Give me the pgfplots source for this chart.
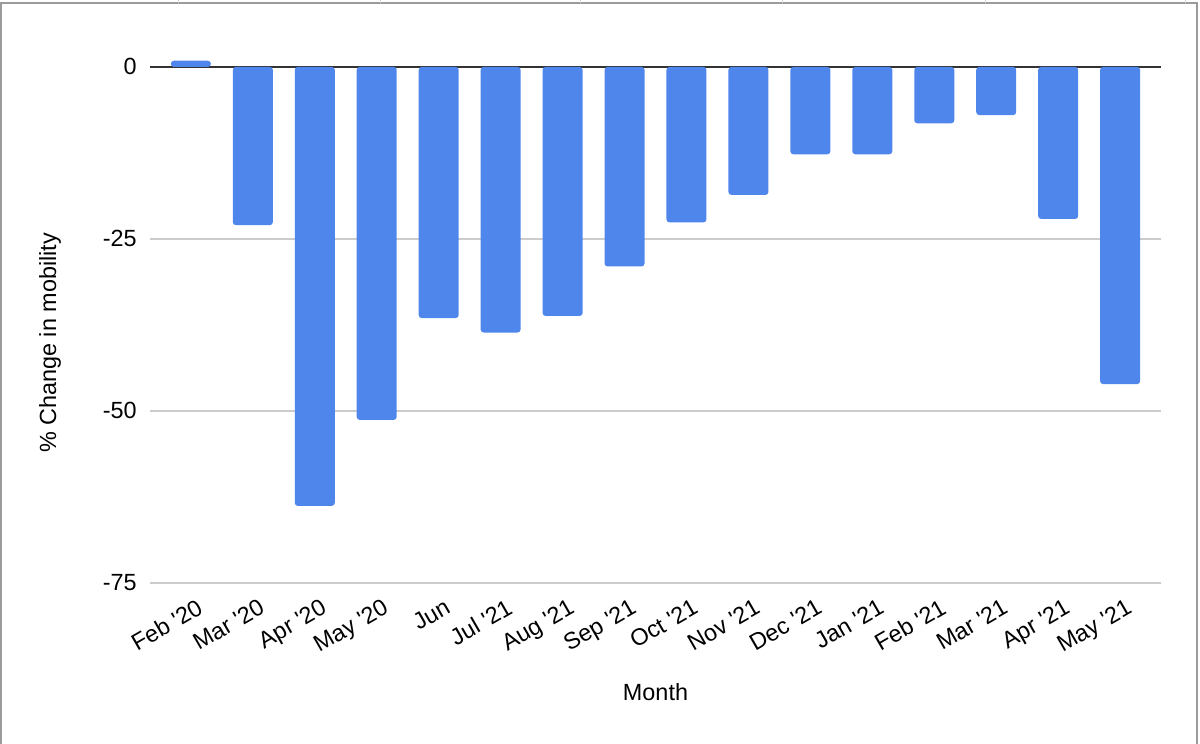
\documentclass[border=0pt]{standalone}
\usepackage{pgfplots}
\pgfplotsset{compat=1.18}
\usepackage{fontspec}
\setmainfont{Liberation Sans}
\definecolor{barblue}{HTML}{4F86EC}
\definecolor{gridgray}{HTML}{CCCCCC}
\definecolor{framegray}{HTML}{9B9B9B}
\newcommand{\q}{\textquotesingle}
\begin{document}
\begin{tikzpicture}
\path[use as bounding box] (0,0) rectangle (600pt,372pt);
\draw[framegray, line width=1pt] (0.5pt,0) -- (0.5pt,370.5pt) -- (598.5pt,370.5pt) -- (598.5pt,0);
\foreach \x in {178,380,580,782,985,1185} \draw[gray!35, line width=0.5pt] (\x*0.5pt,370.5pt) -- (\x*0.5pt,372pt);
\begin{axis}[
  at={(75pt,70.2pt)}, anchor=south west,
  scale only axis, width=505.5pt, height=279pt,
  xmin=-0.66, xmax=15.66, ymin=-78, ymax=3.1,
  axis line style={draw=none},
  ybar, bar width=20pt,
  ytick={-75,-50,-25},
  extra y ticks={0},
  extra y tick style={grid style={color=black!80, line width=1pt}},
  ymajorgrids, grid style={gridgray, line width=0.8pt},
  major tick length=0pt,
  xtick={0,...,15},
  xticklabels={Feb \q20,Mar \q20,Apr \q20,May \q20,Jun,Jul \q21,Aug \q21,Sep \q21,Oct \q21,Nov \q21,Dec \q21,Jan \q21,Feb \q21,Mar \q21,Apr \q21,May \q21},
  font=\fontsize{11.7}{14}\selectfont,
  /pgf/number format/assume math mode=true,
  yticklabel style={anchor=east, inner sep=0pt, xshift=-6.5pt},
  xticklabel style={inner sep=0pt, xshift=2.5pt, yshift=3pt, rotate=30, anchor=north east},
  xlabel={Month},
  xlabel style={at={([yshift=-44.5pt]axis description cs:0.5,0)}, anchor=center},
  ylabel={\% Change in mobility},
  ylabel style={at={([xshift=-50pt]axis description cs:0,0.467)}, anchor=center},
]
\addplot[fill=barblue, draw=none, rounded corners=1.5pt] coordinates {
(0,0.9) (1,-23.0) (2,-63.8) (3,-51.3) (4,-36.5) (5,-38.6) (6,-36.2) (7,-29.0)
(8,-22.6) (9,-18.6) (10,-12.7) (11,-12.7) (12,-8.2) (13,-7.0) (14,-22.1) (15,-46.1)
};
\end{axis}
\end{tikzpicture}
\end{document}
